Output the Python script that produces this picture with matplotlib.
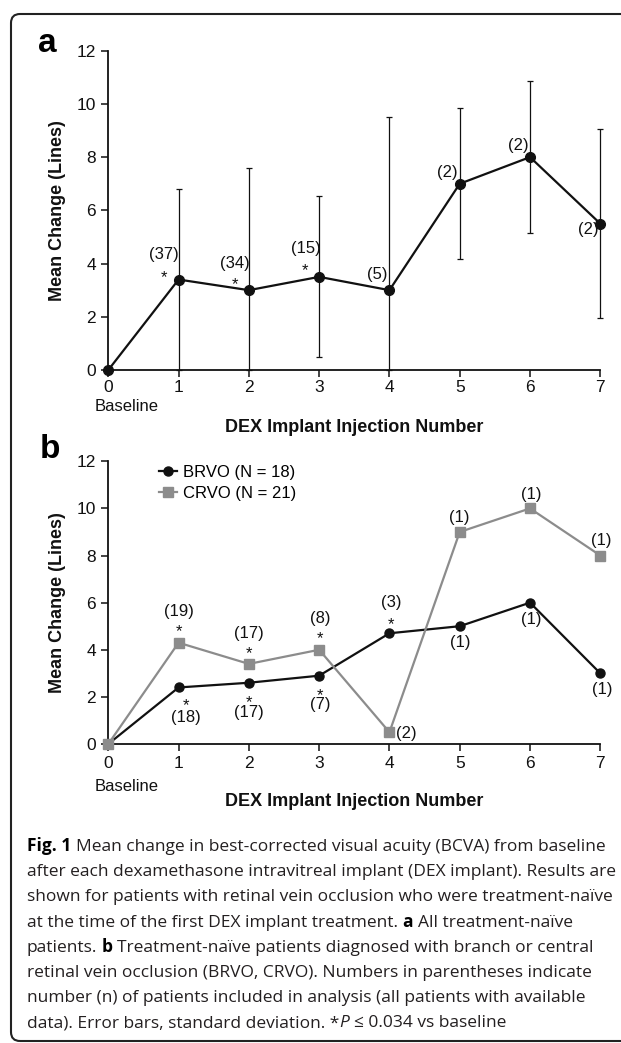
import matplotlib
matplotlib.use("Agg")
import matplotlib.pyplot as plt
from matplotlib import font_manager as fm
from matplotlib.font_manager import FontProperties
from matplotlib.patches import FancyBboxPatch
from matplotlib.transforms import IdentityTransform
from matplotlib.lines import Line2D

# ---------------- data ----------------
injection = [0, 1, 2, 3, 4, 5, 6, 7]
xtick_labels = ["0", "1", "2", "3", "4", "5", "6", "7"]
yticks = [0, 2, 4, 6, 8, 10, 12]

mean_all = [0, 3.4, 3.0, 3.5, 3.0, 7.0, 8.0, 5.5]
sd_all = [0, 3.4, 4.6, 3.03, 6.5, 2.83, 2.85, 3.55]
n_all = ["", "(37)", "(34)", "(15)", "(5)", "(2)", "(2)", "(2)"]
sig_all = [False, True, True, True, False, False, False, False]

brvo = [0, 2.4, 2.6, 2.9, 4.7, 5.0, 6.0, 3.0]
crvo = [0, 4.3, 3.4, 4.0, 0.5, 9.0, 10.0, 8.0]
n_brvo = ["", "(18)", "(17)", "(7)", "(3)", "(1)", "(1)", "(1)"]
n_crvo = ["", "(19)", "(17)", "(8)", "(2)", "(1)", "(1)", "(1)"]
sig_brvo = [False, True, True, True, True, False, False, False]
sig_crvo = [False, True, True, True, False, False, False, False]

legend_labels = ["BRVO (N = 18)", "CRVO (N = 21)"]
xlabel = "DEX Implant Injection Number"
ylabel = "Mean Change (Lines)"

# ---------------- layout (pixel offsets of labels) ----------------
W, H = 621, 1043
names = {f.name for f in fm.fontManager.ttflist}
NARROW = "Liberation Sans Narrow" if "Liberation Sans Narrow" in names else "Liberation Sans"
BOLDF = "Liberation Sans"
CAPF = "Open Sans" if "Open Sans" in names else "DejaVu Sans"

# label centre offsets (px, up positive) and star glyph-centre offsets
off_n_all = [None, (-16, 25), (-17, 27), (-16, 28), (-12.5, 16), (-12, 11), (-12, 12), (-12, -6)]
off_s_all = [None, (-13, 7), (-11, 11), (-11.5, 11), None, None, None, None]
off_n_crvo = [None, (0, 31), (0, 30), (1, 30.7), (16.5, -1), (0, 14), (1, 14), (1, 15)]
off_s_crvo = [None, (0, 16), (0, 15.6), (1, 16.4), None, None, None, None]
off_n_brvo = [None, (7, -30), (0, -30), (1, -29.4), (1.5, 30.5), (1, -16), (1, -16.4), (1.5, -16)]
off_s_brvo = [None, (8, -12.6), (1, -14.6), (1, -15), (1.5, 14), None, None, None]

GRAY = "#8c8c8c"
INK = "#111111"
LSIZE = 12
TXT = dict(family=NARROW, size=LSIZE, color=INK)

fig = plt.figure(figsize=(W / 100, H / 100), dpi=100)
renderer = fig.canvas.get_renderer()

_lp_w, LP_H, LP_D = renderer.get_text_width_height_descent(
    "lp", FontProperties(family=NARROW, size=LSIZE), ismath=False)
ASC = LP_H - LP_D
EM = LSIZE * 100 / 72.0
PAREN_C = 0.26 * EM   # glyph centre of "(..)" above baseline
STAR_C = 0.58 * EM    # glyph centre of "*" above baseline


def px_axes(left, right, top, bottom):
    return fig.add_axes([left / W, 1 - bottom / H, (right - left) / W, (bottom - top) / H])


def style_axes(ax, xpad, baseline_dy, label_dy):
    ax.set_xlim(0, 7)
    ax.set_ylim(0, 12)
    for s in ("top", "right"):
        ax.spines[s].set_visible(False)
    for s in ("left", "bottom"):
        ax.spines[s].set_linewidth(1.3)
        ax.spines[s].set_color(INK)
    ax.set_xticks(injection)
    ax.set_xticklabels(xtick_labels)
    ax.set_yticks(yticks)
    ax.set_yticklabels([str(v) for v in yticks])
    ax.tick_params(axis="both", direction="out", length=4.7, width=1.1, color=INK)
    ax.tick_params(axis="x", pad=xpad)
    ax.tick_params(axis="y", pad=4.3)
    for lab in ax.get_xticklabels() + ax.get_yticklabels():
        lab.set_fontfamily(NARROW)
        lab.set_fontsize(12.5)
        lab.set_color(INK)
    ax.set_ylabel(ylabel, family=BOLDF, weight="bold", size=13, color=INK)
    ax.yaxis.set_label_coords(-(108.3 - 57) / 492, 0.5)
    ax.yaxis.label.set_va("center")
    ax.set_xlabel(xlabel, family=BOLDF, weight="bold", size=13, color=INK)
    ah = ax.get_position().height * H
    ax.xaxis.set_label_coords(0.5, -label_dy / ah)
    ax.xaxis.label.set_va("center")
    ax.annotate("Baseline", xy=(0, 0), xytext=(18, -baseline_dy), textcoords="offset pixels",
                ha="center", va="center", annotation_clip=False, **TXT)


def label_points(ax, xs, ys, labels, offs, stars, soffs):
    for x, y, lab, o, st, so in zip(xs, ys, labels, offs, stars, soffs):
        if not lab or o is None:
            continue
        if st and so is not None:
            xo = (o[0] + so[0]) / 2.0
            if o[1] > so[1]:
                # label above, star below
                ls = (o[1] - so[1] + (STAR_C - PAREN_C) - LP_D) / ASC
                top = o[1] + ASC - PAREN_C
                s = lab + "\n*"
            else:
                # star above, label below
                ls = (so[1] - o[1] - (STAR_C - PAREN_C) - LP_D) / ASC
                top = so[1] + ASC - STAR_C
                s = "*\n" + lab
            ax.annotate(s, xy=(x, y), xytext=(xo, top), textcoords="offset pixels",
                        ha="center", va="top", multialignment="center", linespacing=ls,
                        annotation_clip=False, **TXT)
        else:
            ax.annotate(lab, xy=(x, y), xytext=o, textcoords="offset pixels",
                        ha="center", va="center", annotation_clip=False, **TXT)


# ---------------- panel a ----------------
ax_a = px_axes(108.3, 600.3, 50.7, 370)
style_axes(ax_a, xpad=2.5, baseline_dy=36.7, label_dy=57)
lower_all = [min(s, m) for s, m in zip(sd_all, mean_all)]
ax_a.errorbar(injection[1:], mean_all[1:], yerr=[lower_all[1:], sd_all[1:]], fmt="none", ecolor=INK,
              elinewidth=0.9, capsize=2, capthick=0.9, zorder=2, clip_on=False)
ax_a.plot(injection, mean_all, color=INK, lw=1.6, marker="o", ms=7, zorder=3, clip_on=False)
label_points(ax_a, injection, mean_all, n_all, off_n_all, sig_all, off_s_all)

# ---------------- panel b ----------------
ax_b = px_axes(108.3, 600.3, 461.3, 744)
style_axes(ax_b, xpad=4.0, baseline_dy=42.7, label_dy=57)
ax_b.plot(injection, brvo, color=INK, lw=1.6, marker="o", ms=6.5, zorder=3, clip_on=False)
ax_b.plot(injection, crvo, color=GRAY, lw=1.6, marker="s", ms=6.5, zorder=4, clip_on=False)
label_points(ax_b, injection, crvo, n_crvo, off_n_crvo, sig_crvo, off_s_crvo)
label_points(ax_b, injection, brvo, n_brvo, off_n_brvo, sig_brvo, off_s_brvo)

handles = [Line2D([], [], color=INK, lw=1.6, marker="o", ms=6.5),
           Line2D([], [], color=GRAY, lw=1.6, marker="s", ms=6.5)]
ax_b.legend(handles, legend_labels, loc="upper left", bbox_to_anchor=(159 / W, 1 - 465 / H),
            bbox_transform=fig.transFigure, frameon=False, borderpad=0, borderaxespad=0,
            handlelength=1.1, handletextpad=0.35, labelspacing=0.33,
            prop=dict(family=NARROW, size=12))

# ---------------- panel letters ----------------
fig.text(47 / W, 1 - 44 / H, "a", family=BOLDF, weight="bold", size=24, ha="center", va="center")
fig.text(50 / W, 1 - 449 / H, "b", family=BOLDF, weight="bold", size=24, ha="center", va="center")

# ---------------- border ----------------
border = FancyBboxPatch((11, 2), 700, 1027, boxstyle="round,pad=0,rounding_size=9",
                        transform=IdentityTransform(), fill=False, lw=1.5, edgecolor="#222222")
fig.add_artist(border)

# ---------------- caption ----------------
R = "#231f20"
caption_lines = [
    [("Fig. 1", "bold", "normal", "black"), ("Mean change in best-corrected visual acuity (BCVA) from baseline", "normal", "normal", R)],
    [("after each dexamethasone intravitreal implant (DEX implant). Results are", "normal", "normal", R)],
    [("shown for patients with retinal vein occlusion who were treatment-naïve", "normal", "normal", R)],
    [("at the time of the first DEX implant treatment.", "normal", "normal", R), ("a", "bold", "normal", "black"), ("All treatment-naïve", "normal", "normal", R)],
    [("patients.", "normal", "normal", R), ("b", "bold", "normal", "black"), ("Treatment-naïve patients diagnosed with branch or central", "normal", "normal", R)],
    [("retinal vein occlusion (BRVO, CRVO). Numbers in parentheses indicate", "normal", "normal", R)],
    [("number (n) of patients included in analysis (all patients with available", "normal", "normal", R)],
    [("data). Error bars, standard deviation. *", "normal", "normal", R), ("P", "normal", "italic", R), ("\u2264 0.034 vs baseline", "normal", "normal", R)],
]


def text_w(s, size, weight="normal", style="normal"):
    t = fig.text(0, 0, s, family=[CAPF, "DejaVu Sans"], size=size, weight=weight, style=style)
    w = t.get_window_extent(renderer).width
    t.remove()
    return w


def line_width(runs, size):
    sp = text_w("a a", size) - text_w("aa", size)
    total = 0
    for j, (s, wgt, sty, col) in enumerate(runs):
        total += text_w(s, size, wgt, sty)
        if j + 1 < len(runs) and not s.endswith("*"):
            total += sp
    return total


base_size = 12.0
target = 586
widest = max(line_width(r, base_size) for r in caption_lines)
cap_size = base_size * target / widest
sp = text_w("a a", cap_size) - text_w("aa", cap_size)

x0, y_first, dy = 27, 851, 25.2
for i, runs in enumerate(caption_lines):
    x = x0
    yb = y_first + i * dy
    for j, (s, wgt, sty, col) in enumerate(runs):
        t = fig.text(x / W, 1 - yb / H, s, family=[CAPF, "DejaVu Sans"], size=cap_size,
                     weight=wgt, style=sty, color=col, ha="left", va="baseline")
        x += t.get_window_extent(renderer).width
        if j + 1 < len(runs) and not s.endswith("*"):
            x += sp

fig.savefig("out.png", dpi=100)
